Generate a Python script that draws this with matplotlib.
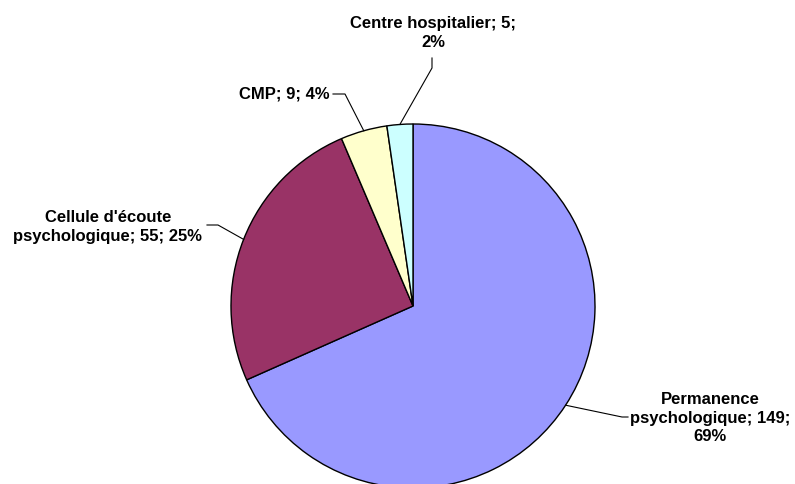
import numpy as np
import matplotlib
matplotlib.use("Agg")
import matplotlib.pyplot as plt

plt.rcParams['font.family'] = ['Liberation Sans', 'DejaVu Sans']

categories = ["Permanence\npsychologique", "Cellule d'écoute\npsychologique", "CMP", "Centre hospitalier"]
values = [149, 55, 9, 5]
labels = ["Permanence\npsychologique; 149;\n69%",
          "Cellule d'écoute\npsychologique; 55; 25%",
          "CMP; 9; 4%",
          "Centre hospitalier; 5;\n2%"]
colors = ["#9999FF", "#993366", "#FFFFCC", "#CCFFFF"]

W, H = 795, 484
cx, cy, R = 413, 306, 182  # pie centre / radius in pixels


def px(x, y):
    # pixel coords (top-left origin) -> data coords
    return (x - cx) / R, (cy - y) / R


fig = plt.figure(figsize=(W / 100, H / 100), dpi=100)
ax = fig.add_axes([0, 0, 1, 1])
ax.pie(values, colors=colors, startangle=90, counterclock=False, radius=1,
       wedgeprops=dict(edgecolor='black', linewidth=1.0))
ax.set_xlim(px(0, 0)[0], px(W, 0)[0])
ax.set_ylim(px(0, H)[1], px(0, 0)[1])
ax.set_aspect('auto')
ax.axis('off')

# label text position, elbow, leader end (pixels)
layout = [
    ((710, 418), (622, 417), (628, 417)),
    ((108, 227), (218, 225), (207, 225)),
    ((284, 94), (345, 94), (333, 94)),
    ((433, 33), (432, 68), (432, 58)),
]

total = sum(values)
start = 90.0
for v, lab, (tpos, elbow, lend) in zip(values, labels, layout):
    span = v / total * 360
    mid = np.deg2rad(start - span / 2)
    start -= span
    ex, ey = np.cos(mid), np.sin(mid)
    bx, by = px(*elbow)
    lx, ly = px(*lend)
    ax.plot([ex, bx, lx], [ey, by, ly], color='black', lw=0.8)
    tx, ty = px(*tpos)
    ax.text(tx, ty, lab, ha='center', va='center', fontsize=12, fontweight='bold',
            linespacing=1.33)

fig.savefig("out.png", dpi=100)
